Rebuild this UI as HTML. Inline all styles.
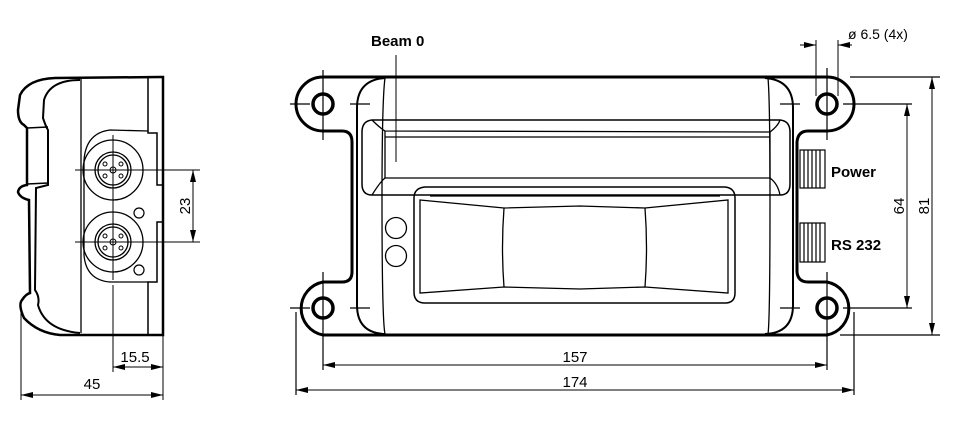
<!DOCTYPE html>
<html><head><meta charset="utf-8"><style>
html,body{margin:0;padding:0;background:#fff;}
svg{display:block;}
text{font-family:"Liberation Sans",sans-serif;fill:#000;}
</style></head><body>
<svg width="956" height="421" viewBox="0 0 956 421" xmlns="http://www.w3.org/2000/svg">
<defs>
<marker id="a" viewBox="0 0 12 6" refX="12" refY="3" markerWidth="12" markerHeight="6" orient="auto-start-reverse" markerUnits="userSpaceOnUse"><path d="M0,0 L12,3 L0,6 z" fill="#000"/></marker>
</defs>
<g fill="none" stroke="#000">
<!-- SIDE VIEW -->
<path stroke-width="2.5" d="M55,78 L160,77 L163,77 L163,335 L60,335 Q38,333 24,318 Q18,305 22,300 Q26,294 30,293 L29,200 Q20,198 18,192 Q19,186 27,185 L27,128 L24,125 Q18,122 18,110 L20,95 Q28,79 55,78 Z"/>
<path stroke-width="2" d="M80,80 Q50,80 44,100 L43,118 Q46,127 48,130 L48,185 L36,188 L35,290 Q40,297 38,305 Q45,330 80,333"/>
<line stroke-width="1.5" x1="27" y1="128" x2="48" y2="127"/>
<line stroke-width="1.5" x1="27" y1="184" x2="48" y2="183"/>
<line stroke-width="1.3" x1="81" y1="78" x2="81" y2="333"/>
<path stroke-width="1.5" d="M148,77 L148,133 L157,133 L157,185 L163,185"/>
<path stroke-width="1.5" d="M148,335 L148,282 L157,282 L157,222 L163,222"/>
<path stroke-width="1.3" d="M148,131 L110,130 Q86,133 84,160 L84,255 Q86,280 110,282 L148,282"/>
<circle stroke-width="1.3" cx="113" cy="170" r="30"/>
<circle stroke-width="1.3" cx="113" cy="170" r="18"/>
<circle stroke-width="1.3" cx="113" cy="170" r="15"/>
<circle stroke-width="1.3" cx="113" cy="242" r="30"/>
<circle stroke-width="1.3" cx="113" cy="242" r="18"/>
<circle stroke-width="1.3" cx="113" cy="242" r="15"/>
<g stroke-width="1">
<circle cx="113" cy="170" r="3"/><circle cx="105" cy="164" r="2"/><circle cx="121" cy="164" r="2"/><circle cx="105" cy="176" r="2"/><circle cx="121" cy="176" r="2"/>
<circle cx="113" cy="242" r="3"/><circle cx="105" cy="236" r="2"/><circle cx="121" cy="236" r="2"/><circle cx="105" cy="248" r="2"/><circle cx="121" cy="248" r="2"/>
<line x1="75" y1="170" x2="200" y2="170"/><line x1="113" y1="135" x2="113" y2="280"/>
<line x1="75" y1="242" x2="200" y2="242"/>
</g>
<circle stroke-width="1.2" cx="139" cy="213" r="5"/>
<circle stroke-width="1.2" cx="139" cy="270" r="5"/>
<g stroke-width="1">
<line x1="113" y1="285" x2="113" y2="372"/>
<line x1="21" y1="300" x2="21" y2="400"/>
<line x1="163" y1="335" x2="163" y2="400"/>
<line x1="193" y1="170" x2="193" y2="242" marker-start="url(#a)" marker-end="url(#a)"/>
<line x1="113" y1="367" x2="163" y2="367" marker-start="url(#a)" marker-end="url(#a)"/>
<line x1="21" y1="395" x2="163" y2="395" marker-start="url(#a)" marker-end="url(#a)"/>
</g>

<!-- FRONT VIEW -->
<path stroke-width="3" d="M323,77 L827,77 A27,27 0 0 1 827,131 L808,131 Q798,131 797,142 L797,272 Q798,282 808,282 L827,282 A27,27 0 0 1 827,335 L323,335 A27,27 0 0 1 323,282 L342,282 Q352,282 352,272 L352,142 Q352,131 342,131 L323,131 A27,27 0 0 1 323,77 Z"/>
<path stroke-width="2" d="M385,78 Q357,80 357,108 L357,305 Q357,333 385,334"/>
<path stroke-width="2" d="M765,78 Q793,80 793,108 L793,305 Q793,333 765,334"/>
<path stroke-width="1.3" d="M385,78 Q382,100 382,200 Q382,320 385,334"/>
<path stroke-width="1.3" d="M768,78 Q770,100 770,200 Q770,320 768,334"/>
<g stroke-width="3.5"><circle cx="323" cy="104" r="10"/><circle cx="323" cy="308" r="10"/><circle cx="827" cy="104" r="10"/><circle cx="827" cy="308" r="10"/></g>
<g stroke-width="1.2">
<line x1="290" y1="104" x2="310" y2="104"/><line x1="350" y1="104" x2="370" y2="104"/><line x1="323" y1="70" x2="323" y2="140"/>
<line x1="290" y1="308" x2="310" y2="308"/><line x1="350" y1="308" x2="370" y2="308"/><line x1="323" y1="272" x2="323" y2="370"/>
<line x1="780" y1="104" x2="800" y2="104"/><line x1="843" y1="104" x2="912" y2="104"/><line x1="827" y1="68" x2="827" y2="140"/>
<line x1="780" y1="308" x2="800" y2="308"/><line x1="843" y1="308" x2="912" y2="308"/><line x1="827" y1="272" x2="827" y2="370"/>
<line x1="296" y1="312" x2="296" y2="395"/><line x1="854" y1="312" x2="854" y2="395"/>
<line x1="850" y1="77" x2="940" y2="77"/><line x1="840" y1="335" x2="940" y2="335"/>
</g>
<!-- top channel -->
<path stroke-width="1.5" d="M372,120 L780,120 Q790,121 790,132 L790,184 Q790,195 780,195 L372,195 Q362,195 362,184 L362,132 Q362,121 372,120 Z"/>
<g stroke-width="1.3">
<path d="M372,120 Q380,128 385,131 L770,132 Q778,126 780,120"/>
<line x1="385" y1="137" x2="770" y2="137"/>
<path d="M385,131 L385,178 M770,132 L770,178"/>
<path d="M372,195 Q380,182 385,178 L770,178 Q778,184 780,195"/>
</g>
<!-- window -->
<path stroke-width="1.5" d="M425,187 L725,187 Q735,188 735,198 L735,293 Q735,303 725,303 L425,303 Q414,303 414,292 L414,198 Q414,188 425,187 Z"/>
<g stroke-width="1.3">
<path d="M420,200 L504,208 L580,206 L645,208 L728,200 L728,293 L645,287 L580,289 L504,287 L420,293 Z"/>
<path d="M504,208 Q501,248 504,287 M645,208 Q648,248 645,287"/>
<line x1="430" y1="196" x2="720" y2="196"/>
</g>
<circle stroke-width="1.3" cx="396" cy="228" r="10.5"/>
<circle stroke-width="1.3" cx="396" cy="256" r="10.5"/>
<!-- connectors -->
<g stroke-width="1.2">
<rect x="800" y="150" width="25" height="38"/>
<rect x="800" y="223" width="25" height="39"/>
<path d="M804,150 V188 M808,150 V188 M812,150 V188 M816,150 V188 M820,150 V188"/>
<path d="M804,223 V262 M808,223 V262 M812,223 V262 M816,223 V262 M820,223 V262"/>
</g>
<!-- dims -->
<g stroke-width="1">
<line x1="396" y1="55" x2="396" y2="162"/>
<line x1="323" y1="365" x2="827" y2="365" marker-start="url(#a)" marker-end="url(#a)"/>
<line x1="296" y1="390" x2="854" y2="390" marker-start="url(#a)" marker-end="url(#a)"/>
<line x1="907" y1="104" x2="907" y2="308" marker-start="url(#a)" marker-end="url(#a)"/>
<line x1="932" y1="77" x2="932" y2="335" marker-start="url(#a)" marker-end="url(#a)"/>
<line x1="816" y1="40" x2="816" y2="96"/><line x1="838" y1="40" x2="838" y2="96"/>
<line x1="800" y1="45" x2="816" y2="45" marker-end="url(#a)"/>
<line x1="852" y1="45" x2="838" y2="45" marker-end="url(#a)"/>
</g>
</g>
<text x="371" y="46" font-size="15" font-weight="bold">Beam 0</text>
<text x="848" y="39" font-size="14">ø 6.5 (4x)</text>
<text x="831" y="177" font-size="15" font-weight="bold">Power</text>
<text x="831" y="250" font-size="15" font-weight="bold">RS 232</text>
<text x="575" y="362" font-size="15" text-anchor="middle">157</text>
<text x="575" y="387" font-size="15" text-anchor="middle">174</text>
<text transform="translate(904,206) rotate(-90)" font-size="15" text-anchor="middle">64</text>
<text transform="translate(929,206) rotate(-90)" font-size="15" text-anchor="middle">81</text>
<text transform="translate(190,206) rotate(-90)" font-size="15" text-anchor="middle">23</text>
<text x="135" y="362" font-size="15" text-anchor="middle">15.5</text>
<text x="92" y="389" font-size="15" text-anchor="middle">45</text>
</svg>
</body></html>
